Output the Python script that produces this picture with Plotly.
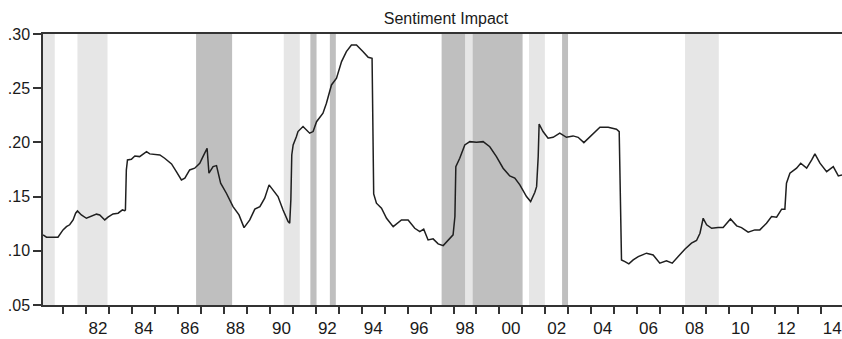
import plotly.graph_objects as go

# Sentiment impact series (decimal year, value)
years = [1980.11, 1980.26, 1980.76, 1980.98, 1981.13, 1981.27, 1981.42, 1981.53, 1981.61, 1981.78,
         1982.00, 1982.22, 1982.44, 1982.58, 1982.80, 1982.94, 1983.16, 1983.38, 1983.57, 1983.67,
         1983.70, 1983.74, 1983.79, 1983.96, 1984.11, 1984.32, 1984.47, 1984.62, 1984.76, 1985.20,
         1985.41, 1985.71, 1985.92, 1986.14, 1986.29, 1986.50, 1986.72, 1986.94, 1987.08, 1987.26,
         1987.34, 1987.52, 1987.67, 1987.85, 1988.10, 1988.39, 1988.65, 1988.87, 1989.12, 1989.34,
         1989.56, 1989.77, 1989.96, 1990.13, 1990.35, 1990.57, 1990.79, 1990.86, 1990.91, 1990.95,
         1991.01, 1991.15, 1991.22, 1991.44, 1991.73, 1991.88, 1992.03, 1992.31, 1992.46, 1992.68,
         1992.90, 1993.12, 1993.33, 1993.55, 1993.77, 1994.06, 1994.28, 1994.45, 1994.47, 1994.52,
         1994.64, 1994.86, 1995.08, 1995.37, 1995.73, 1996.02, 1996.31, 1996.53, 1996.70, 1996.89,
         1997.11, 1997.33, 1997.55, 1997.76, 1997.98, 1998.06, 1998.10, 1998.27, 1998.49, 1998.71,
         1999.00, 1999.29, 1999.58, 1999.87, 2000.16, 2000.45, 2000.67, 2000.89, 2001.18, 2001.36,
         2001.54, 2001.62, 2001.69, 2001.73, 2001.90, 2002.12, 2002.34, 2002.63, 2002.92, 2003.21,
         2003.43, 2003.68, 2004.01, 2004.38, 2004.74, 2005.10, 2005.22, 2005.25, 2005.29, 2005.32,
         2005.47, 2005.64, 2005.83, 2006.05, 2006.41, 2006.70, 2006.99, 2007.28, 2007.53, 2007.79,
         2008.08, 2008.37, 2008.59, 2008.74, 2008.88, 2009.03, 2009.25, 2009.53, 2009.75, 2010.07,
         2010.34, 2010.55, 2010.84, 2011.13, 2011.35, 2011.64, 2011.86, 2012.08, 2012.30, 2012.44,
         2012.51, 2012.66, 2012.95, 2013.13, 2013.39, 2013.61, 2013.75, 2013.97, 2014.26, 2014.55,
         2014.77, 2014.93]
values = [0.1146, 0.1125, 0.1125, 0.1193, 0.1223, 0.1240, 0.1285, 0.1347, 0.1368, 0.1331,
          0.1300, 0.1316, 0.1338, 0.1331, 0.1285, 0.1310, 0.1340, 0.1347, 0.1377, 0.1370,
          0.1377, 0.1746, 0.1838, 0.1845, 0.1875, 0.1869, 0.1894, 0.1915, 0.1894, 0.1884,
          0.1854, 0.1801, 0.1730, 0.1654, 0.1670, 0.1746, 0.1762, 0.1808, 0.1869, 0.1946,
          0.1716, 0.1777, 0.1786, 0.1624, 0.1531, 0.1408, 0.1331, 0.1214, 0.1285, 0.1384,
          0.1408, 0.1485, 0.1608, 0.1562, 0.1500, 0.1377, 0.1270, 0.1255, 0.1470, 0.1884,
          0.1977, 0.2053, 0.2100, 0.2146, 0.2085, 0.2100, 0.2191, 0.2269, 0.2361, 0.2530,
          0.2592, 0.2745, 0.2837, 0.2899, 0.2899, 0.2837, 0.2785, 0.2776, 0.2170, 0.1525,
          0.1439, 0.1393, 0.1300, 0.1223, 0.1285, 0.1285, 0.1208, 0.1177, 0.1200, 0.1100,
          0.1110, 0.1064, 0.1048, 0.1100, 0.1147, 0.1316, 0.1777, 0.1854, 0.1977, 0.2007,
          0.2001, 0.2007, 0.1960, 0.1869, 0.1762, 0.1691, 0.1670, 0.1608, 0.1500, 0.1454,
          0.1537, 0.1592, 0.1869, 0.2170, 0.2100, 0.2038, 0.2047, 0.2085, 0.2047, 0.2060,
          0.2047, 0.1998, 0.2069, 0.2140, 0.2140, 0.2121, 0.2100, 0.1808, 0.1193, 0.0916,
          0.0900, 0.0879, 0.0916, 0.0947, 0.0978, 0.0962, 0.0886, 0.0907, 0.0886, 0.0947,
          0.1015, 0.1070, 0.1095, 0.1162, 0.1300, 0.1240, 0.1208, 0.1214, 0.1214, 0.1294,
          0.1230, 0.1214, 0.1172, 0.1193, 0.1193, 0.1255, 0.1316, 0.1310, 0.1384, 0.1384,
          0.1624, 0.1716, 0.1762, 0.1808, 0.1762, 0.1838, 0.1894, 0.1808, 0.1730, 0.1777,
          0.1691, 0.1700]

# Shaded periods: (start, end, shade)
shade_periods = [
    (1980.10, 1980.62, "light"),
    (1981.61, 1982.92, "light"),
    (1986.78, 1988.35, "dark"),
    (1990.60, 1991.30, "light"),
    (1991.76, 1992.03, "dark"),
    (1992.61, 1992.87, "dark"),
    (1997.48, 1998.52, "dark"),
    (1998.52, 1998.83, "light"),
    (1998.83, 2001.01, "dark"),
    (2001.29, 2001.98, "light"),
    (2002.73, 2002.99, "dark"),
    (2008.09, 2009.56, "light"),
]
shade_colors = {"light": "#e6e6e6", "dark": "#bfbfbf"}

x_label_years = list(range(1982, 2015, 2))
x_tick_labels = ["%02d" % (y % 100) for y in x_label_years]
x_minor_years = list(range(1981, 2015))
y_ticks = [0.05, 0.10, 0.15, 0.20, 0.25, 0.30]
y_tick_labels = [".05", ".10", ".15", ".20", ".25", ".30"]

font_family = "Liberation Sans, Arial, sans-serif"

fig = go.Figure()
fig.add_trace(go.Scatter(x=years, y=values, mode="lines",
                         line=dict(color="#1f1f1f", width=1.5),
                         showlegend=False, hoverinfo="skip"))

for s, e, kind in shade_periods:
    fig.add_shape(type="rect", xref="x", yref="paper", x0=s, x1=e, y0=0, y1=1,
                  fillcolor=shade_colors[kind], line=dict(width=0), layer="below")

fig.update_layout(
    width=842, height=339,
    margin=dict(l=43, r=0, t=34, b=34, pad=0),
    paper_bgcolor="white", plot_bgcolor="white",
    font=dict(family=font_family, size=16, color="#1a1a1a"),
    title=dict(text="Sentiment Impact", x=446 / 842, xref="container", xanchor="center",
               y=1 - 18 / 339, yref="container", yanchor="middle",
               font=dict(size=16, family=font_family, color="#1a1a1a")),
)

fig.update_xaxes(
    range=[1980.108, 2014.93],
    tickmode="array",
    tickvals=[y + 0.5 for y in x_label_years],
    ticktext=x_tick_labels,
    ticks="outside", ticklen=7, tickcolor="rgba(0,0,0,0)",
    minor=dict(tickmode="array", tickvals=x_minor_years, ticks="outside",
               ticklen=7, tickwidth=1.5, tickcolor="#333333", showgrid=False),
    showline=True, linecolor="#333333", linewidth=1.5, mirror=True,
    showgrid=False, zeroline=False,
    tickfont=dict(size=17, family=font_family, color="#1a1a1a"),
)
fig.update_yaxes(
    range=[0.05, 0.30],
    tickmode="array", tickvals=y_ticks, ticktext=y_tick_labels,
    ticks="outside", ticklen=8, tickwidth=1.5, tickcolor="#333333",
    showline=True, linecolor="#333333", linewidth=1.5, mirror=False,
    showgrid=False, zeroline=False,
    tickfont=dict(size=16, family=font_family, color="#1a1a1a"),
)

fig.write_html("out.html")
